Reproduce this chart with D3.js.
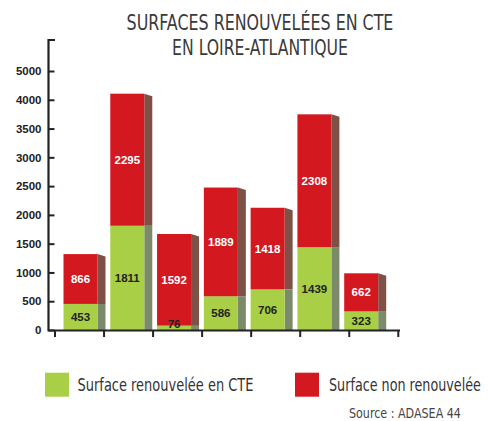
<!DOCTYPE html>
<html>
<head>
<meta charset="utf-8">
<script src="https://cdn.jsdelivr.net/npm/d3@7"></script>
<style>
  html, body { margin: 0; padding: 0; background: #fff; }
  svg { display: block; }
</style>
</head>
<body>
<svg id="chart" width="488" height="421"></svg>
<script>
// ---- data ----
const categories = ["1", "2", "3", "4", "5", "6", "7"];
const renewedCTE = [453, 1811, 76, 586, 706, 1439, 323];
const notRenewed = [866, 2295, 1592, 1889, 1418, 2308, 662];
const tickValues = [0, 500, 1000, 1500, 2000, 2500, 3000, 3500, 4000, 4500];
const tickLabels = ["0", "500", "1000", "1500", "2000", "2500", "3000", "3500", "4000", "5000"];
const seriesNames = ["Surface renouvelée en CTE", "Surface non renouvelée"];
const titleLines = ["SURFACES RENOUVELÉES EN CTE", "EN LOIRE-ATLANTIQUE"];
const sourceText = "Source : ADASEA 44";

// ---- styles ----
const GREEN = "#a8cf45", RED = "#d3181f";
const GREEN_SIDE = "#7b8a6b", RED_SIDE = "#7f5046";
const AXIS = "#222";
const narrow = "'Liberation Sans Narrow', 'DejaVu Sans Condensed', 'Roboto Condensed', sans-serif";
const bold = "'Liberation Sans', Arial, sans-serif";

const svg = d3.select("#chart");

// fit a text horizontally into a given width by scaling (keeps glyph height)
function fitText(sel, x, yPos, width, anchor) {
  const node = sel.node();
  const w = node.getComputedTextLength();
  const k = w > 0 ? width / w : 1;
  sel.attr("x", 0).attr("y", 0)
    .attr("text-anchor", anchor || "start")
    .attr("transform", `translate(${x},${yPos}) scale(${k},1)`);
}

// ---- scales ----
const y = d3.scaleLinear().domain([0, 4500]).range([330, 71]);
const xBand = d3.scaleBand().domain(categories).range([55, 398.3]);
const xBar = d3.scalePoint().domain(categories).range([63.5, 344.2]);
const frontW = 34, sideW = 8, slant = 2.5;

// ---- title ----
const tWidths = [267, 176];
titleLines.forEach((t, i) => {
  const tx = svg.append("text")
    .attr("font-family", narrow)
    .attr("font-size", 21)
    .attr("fill", "#3a3a3a")
    .text(t);
  fitText(tx, 260, 30 + i * 25, tWidths[i], "middle");
});

// ---- bars ----
const data = categories.map((c, i) => ({ c, g: renewedCTE[i], r: notRenewed[i] }));
const gBars = svg.append("g");
data.forEach(d => {
  const x0 = xBar(d.c), x1 = x0 + frontW, x2 = x1 + sideW;
  const yBase = y(0), yMid = y(d.g), yTop = y(d.g + d.r);
  // side faces
  gBars.append("path")
    .attr("d", `M${x1},${yMid} L${x2},${yMid} L${x2},${yBase} L${x1},${yBase}Z`)
    .attr("fill", GREEN_SIDE);
  gBars.append("path")
    .attr("d", `M${x1},${yTop} L${x2},${yTop + slant} L${x2},${yMid} L${x1},${yMid}Z`)
    .attr("fill", RED_SIDE);
  // front faces
  gBars.append("rect").attr("x", x0).attr("y", yMid)
    .attr("width", frontW).attr("height", yBase - yMid).attr("fill", GREEN);
  gBars.append("rect").attr("x", x0).attr("y", yTop)
    .attr("width", frontW).attr("height", yMid - yTop).attr("fill", RED);
  // labels
  const gy = Math.min((yBase + yMid) / 2, yBase - 6);
  gBars.append("text")
    .attr("x", x0 + frontW / 2).attr("y", gy).attr("dy", "0.36em")
    .attr("text-anchor", "middle")
    .attr("font-family", bold).attr("font-weight", "bold").attr("font-size", 11.5)
    .attr("fill", "#222").text(d.g);
  gBars.append("text")
    .attr("x", x0 + frontW / 2).attr("y", (yMid + yTop) / 2).attr("dy", "0.36em")
    .attr("text-anchor", "middle")
    .attr("font-family", bold).attr("font-weight", "bold").attr("font-size", 11.5)
    .attr("fill", "#fff").text(d.r);
});

// ---- y axis ----
const yAxis = d3.axisRight(y).tickValues(tickValues)
  .tickFormat((v, i) => tickLabels[i]).tickSize(6).tickPadding(0);
const ga = svg.append("g").attr("transform", "translate(48.5,0)").call(yAxis);
ga.select(".domain").remove();
ga.selectAll(".tick line").attr("stroke", AXIS).attr("stroke-width", 2);
ga.selectAll(".tick text")
  .attr("x", -7).attr("text-anchor", "end")
  .attr("font-family", bold).attr("font-weight", "bold").attr("font-size", 11.5)
  .attr("fill", AXIS);
// axis line with top cap
svg.append("path")
  .attr("d", `M55,${40} H48.5 V${y(0)}`)
  .attr("fill", "none").attr("stroke", AXIS).attr("stroke-width", 2.2);

// ---- x baseline with band ticks ----
svg.append("line")
  .attr("x1", 47.5).attr("x2", 400).attr("y1", y(0) + 0.5).attr("y2", y(0) + 0.5)
  .attr("stroke", AXIS).attr("stroke-width", 2.2);
const bounds = categories.map(c => xBand(c)).concat([xBand(categories[categories.length - 1]) + xBand.bandwidth()]);
svg.selectAll(".xt").data(bounds).enter().append("line")
  .attr("x1", d => d).attr("x2", d => d)
  .attr("y1", y(0)).attr("y2", y(0) + 7)
  .attr("stroke", AXIS).attr("stroke-width", 2);

// ---- legend ----
const legendColors = [GREEN, RED];
const legendX = [45, 295], legendTextX = [77.5, 329], legendTextW = [176, 152];
seriesNames.forEach((name, i) => {
  svg.append("rect").attr("x", legendX[i]).attr("y", 372.7)
    .attr("width", 24).attr("height", 24).attr("fill", legendColors[i]);
  const tx = svg.append("text")
    .attr("font-family", narrow).attr("font-size", 17)
    .attr("fill", "#333")
    .text(name);
  fitText(tx, legendTextX[i], 391, legendTextW[i], "start");
});

// ---- source ----
const st = svg.append("text")
  .attr("font-family", narrow).attr("font-size", 14.5)
  .attr("fill", "#444")
  .text(sourceText);
fitText(st, 349, 417.5, 112, "start");
</script>
</body>
</html>
